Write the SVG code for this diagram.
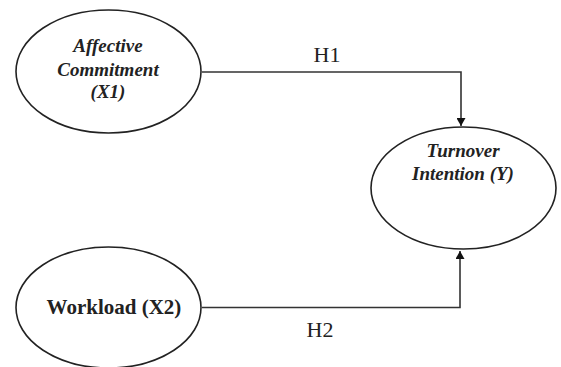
<svg xmlns="http://www.w3.org/2000/svg" width="561" height="367" viewBox="0 0 561 367">
<style>
.node{fill:#fff;stroke:#222;stroke-width:1.6}
.lbl{font-family:"Liberation Serif",serif;font-weight:bold;font-style:italic;font-size:19px;fill:#222;text-anchor:middle}
.lblb{font-family:"Liberation Serif",serif;font-weight:bold;font-size:21px;fill:#222;text-anchor:middle}
.edge{fill:none;stroke:#333;stroke-width:1.6}
.elbl{font-family:"Liberation Serif",serif;font-size:22px;fill:#222;text-anchor:middle}
</style>
<defs>
<marker id="arr" markerWidth="8" markerHeight="9" refX="8" refY="4.5" orient="auto" markerUnits="userSpaceOnUse">
<path d="M0,0 L8,4.5 L0,9 Z" fill="#111"/>
</marker>
</defs>
<rect width="561" height="367" fill="#fff"/>
<g id="connectors">
<path class="edge" d="M202,72 H461 V126" marker-end="url(#arr)"/>
<text class="elbl" x="327" y="62">H1</text>
<path class="edge" d="M202,307.5 H460 V251" marker-end="url(#arr)"/>
<text class="elbl" x="320" y="337">H2</text>
</g>
<g id="x1">
<ellipse class="node" cx="108.5" cy="71.5" rx="92.5" ry="61.5"/>
<text class="lbl" x="108" y="52">Affective</text>
<text class="lbl" x="108" y="75.5">Commitment</text>
<text class="lbl" x="108" y="98">(X1)</text>
</g>
<g id="y">
<ellipse class="node" cx="463.5" cy="188" rx="92.5" ry="61"/>
<text class="lbl" x="463" y="156.5">Turnover</text>
<text class="lbl" x="463" y="179.5">Intention (Y)</text>
</g>
<g id="x2">
<ellipse class="node" cx="108.5" cy="307.5" rx="92.5" ry="60.5"/>
<text class="lblb" x="114" y="314">Workload (X2)</text>
</g>
</svg>
